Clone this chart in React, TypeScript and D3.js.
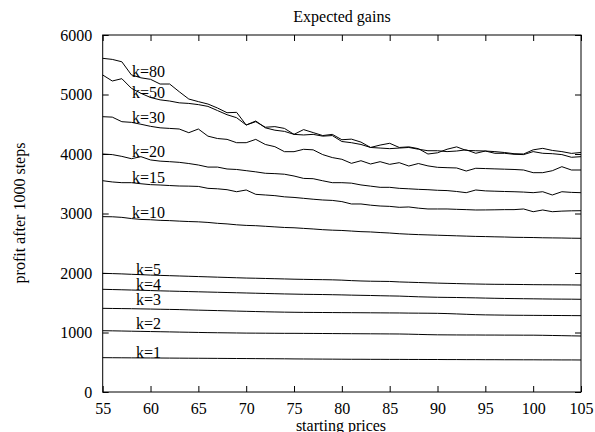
import { useEffect, useRef } from "react"
import * as d3 from "d3"

// starting prices 55..105, one point per price
const prices = d3.range(55, 106)

const k80 = [5608, 5590, 5550, 5330, 5280, 5255, 5176, 5176, 5047, 4924, 4880, 4840, 4773, 4694, 4700, 4487, 4543, 4450, 4460, 4430, 4330, 4410, 4360, 4310, 4330, 4240, 4250, 4200, 4110, 4150, 4180, 4110, 4120, 4090, 4000, 4020, 4080, 4120, 4060, 4055, 4050, 4040, 4025, 4005, 4000, 4070, 4095, 4060, 4040, 4010, 4025]
const k50 = [5328, 5227, 5266, 5104, 5020, 4950, 4910, 4890, 4860, 4850, 4830, 4800, 4730, 4660, 4610, 4487, 4555, 4440, 4400, 4380, 4330, 4320, 4330, 4300, 4310, 4210, 4190, 4160, 4110, 4100, 4090, 4100, 4110, 4080, 4055, 4055, 4040, 4050, 4070, 4012, 4050, 4012, 4012, 3995, 3990, 4040, 4012, 4005, 3990, 3945, 3955]
const k30 = [4627, 4620, 4543, 4532, 4500, 4465, 4440, 4430, 4420, 4358, 4420, 4300, 4260, 4246, 4190, 4190, 4246, 4160, 4123, 4039, 4039, 4079, 4070, 3990, 3940, 3911, 3843, 3887, 3832, 3871, 3826, 3854, 3798, 3840, 3800, 3776, 3770, 3765, 3714, 3760, 3755, 3750, 3745, 3740, 3731, 3686, 3686, 3719, 3787, 3731, 3731]
const k20 = [4000, 3990, 3960, 3921, 3955, 3900, 3880, 3871, 3860, 3840, 3815, 3780, 3780, 3748, 3740, 3720, 3700, 3676, 3670, 3660, 3630, 3590, 3585, 3550, 3518, 3518, 3510, 3480, 3460, 3440, 3440, 3423, 3415, 3406, 3400, 3390, 3385, 3370, 3350, 3395, 3380, 3375, 3370, 3366, 3360, 3350, 3366, 3311, 3366, 3355, 3350]
const k15 = [3551, 3530, 3518, 3518, 3500, 3485, 3479, 3470, 3462, 3460, 3455, 3423, 3415, 3400, 3366, 3395, 3322, 3311, 3300, 3280, 3270, 3255, 3240, 3227, 3220, 3200, 3160, 3160, 3140, 3126, 3120, 3104, 3110, 3090, 3076, 3076, 3076, 3070, 3065, 3059, 3060, 3062, 3065, 3065, 3076, 3030, 3059, 3030, 3040, 3045, 3047]
const k10 = [2947, 2945, 2935, 2915, 2900, 2895, 2885, 2880, 2872, 2865, 2860, 2850, 2835, 2825, 2810, 2800, 2795, 2785, 2775, 2765, 2760, 2750, 2740, 2728, 2720, 2715, 2705, 2695, 2690, 2680, 2672, 2660, 2652, 2645, 2640, 2635, 2630, 2625, 2620, 2615, 2612, 2608, 2605, 2600, 2598, 2596, 2592, 2590, 2588, 2585, 2583]
const k5 = [1995, 1990, 1985, 1978, 1972, 1965, 1960, 1955, 1950, 1945, 1940, 1935, 1930, 1925, 1920, 1915, 1912, 1908, 1904, 1900, 1896, 1893, 1890, 1888, 1885, 1880, 1872, 1866, 1862, 1860, 1858, 1850, 1845, 1840, 1835, 1830, 1826, 1822, 1818, 1815, 1812, 1810, 1809, 1808, 1806, 1804, 1803, 1802, 1801, 1800, 1798]
const k4 = [1726, 1722, 1718, 1714, 1710, 1705, 1700, 1696, 1692, 1688, 1684, 1680, 1676, 1672, 1668, 1664, 1660, 1656, 1652, 1648, 1645, 1642, 1640, 1638, 1635, 1632, 1628, 1625, 1622, 1618, 1615, 1612, 1606, 1600, 1596, 1592, 1590, 1588, 1585, 1582, 1578, 1575, 1572, 1570, 1568, 1566, 1564, 1562, 1561, 1560, 1558]
const k3 = [1406, 1404, 1402, 1400, 1397, 1394, 1391, 1388, 1385, 1380, 1376, 1372, 1368, 1364, 1360, 1356, 1352, 1348, 1345, 1342, 1340, 1338, 1337, 1336, 1335, 1334, 1333, 1332, 1331, 1330, 1329, 1328, 1326, 1325, 1324, 1322, 1318, 1312, 1306, 1300, 1296, 1294, 1292, 1290, 1289, 1288, 1287, 1286, 1285, 1284, 1283]
const k2 = [1030, 1028, 1025, 1022, 1019, 1016, 1013, 1010, 1007, 1004, 1001, 998, 996, 994, 992, 990, 989, 988, 987, 986, 986, 985, 984, 983, 982, 981, 980, 979, 978, 977, 976, 975, 972, 968, 964, 961, 960, 959, 958, 958, 957, 957, 956, 956, 955, 955, 953, 950, 947, 944, 941]
const k1 = [577, 576, 575, 574, 573, 572, 571, 570, 569, 568, 567, 566, 565, 564, 563, 562, 561, 560, 559, 558, 556, 555, 554, 553, 552, 551, 550, 550, 549, 549, 548, 548, 547, 547, 546, 546, 545, 545, 544, 544, 543, 543, 542, 542, 541, 541, 540, 540, 539, 539, 538]

const seriesValues = [k80, k50, k30, k20, k15, k10, k5, k4, k3, k2, k1]
const labelNames = ["k=80", "k=50", "k=30", "k=20", "k=15", "k=10", "k=5", "k=4", "k=3", "k=2", "k=1"]
// where the label text sits (price, profit) in data units
const labelPrice = 59.8
const labelProfit = [5300, 4935, 4515, 3955, 3520, 2920, 1965, 1715, 1462, 1060, 566]

const xTicks = d3.range(55, 106, 5)
const yTicks = d3.range(0, 6001, 1000)

export default function App() {
  const svgRef = useRef<SVGSVGElement>(null)

  useEffect(() => {
    if (!svgRef.current) return
    const svg = d3.select(svgRef.current)
    svg.selectAll("*").remove()

    const W = 595
    const H = 432
    const margin = { top: 35, right: 14, bottom: 40, left: 102.7 }
    const width = W - margin.left - margin.right
    const height = H - margin.top - margin.bottom
    const font = "'Liberation Serif', 'Times New Roman', serif"
    const fs = 16

    svg.attr("width", W).attr("height", H)

    const g = svg
      .append("g")
      .attr("transform", `translate(${margin.left},${margin.top})`)
      .style("font-family", font)
      .style("font-size", `${fs}px`)

    const x = d3.scaleLinear().domain([55, 105]).range([0, width])
    const y = d3.scaleLinear().domain([0, 6000]).range([height, 0])

    const styleAxis = (sel: d3.Selection<SVGGElement, unknown, null, undefined>) => {
      sel.attr("font-family", null).attr("font-size", null)
      sel.select(".domain").remove()
      sel.selectAll("line").attr("stroke", "#000").attr("stroke-width", 1)
      sel.selectAll("text").style("font-family", font).style("font-size", `${fs}px`).attr("fill", "#000")
    }

    // axes with inward ticks on all four sides
    g.append("g")
      .attr("transform", `translate(0,${height})`)
      .call(d3.axisBottom(x).tickValues(xTicks).tickFormat(d3.format("d")).tickSizeInner(-6).tickSizeOuter(0).tickPadding(10.6))
      .call(styleAxis)
    g.append("g")
      .call(d3.axisTop(x).tickValues(xTicks).tickSizeInner(-6).tickSizeOuter(0).tickFormat(() => ""))
      .call(styleAxis)
    g.append("g")
      .call(d3.axisLeft(y).tickValues(yTicks).tickFormat(d3.format("d")).tickSizeInner(-6).tickSizeOuter(0).tickPadding(10.5))
      .call(styleAxis)
    g.append("g")
      .attr("transform", `translate(${width},0)`)
      .call(d3.axisRight(y).tickValues(yTicks).tickSizeInner(-6).tickSizeOuter(0).tickFormat(() => ""))
      .call(styleAxis)

    g.append("rect")
      .attr("width", width)
      .attr("height", height)
      .attr("fill", "none")
      .attr("stroke", "#000")
      .attr("stroke-width", 1)

    const line = d3
      .line<number>()
      .x((_, i) => x(prices[i]))
      .y((d) => y(d))

    g.selectAll(".series")
      .data(seriesValues)
      .join("path")
      .attr("class", "series")
      .attr("d", (d) => line(d))
      .attr("fill", "none")
      .attr("stroke", "#000")
      .attr("stroke-width", 1)

    g.selectAll(".klabel")
      .data(labelNames)
      .join("text")
      .attr("class", "klabel")
      .attr("x", x(labelPrice))
      .attr("y", (_, i) => y(labelProfit[i]))
      .attr("text-anchor", "middle")
      .text((d) => d)

    // titles
    const titles = svg.append("g").style("font-family", font).style("font-size", `${fs}px`)

    titles.append("text")
      .attr("x", 342)
      .attr("y", 22)
      .attr("text-anchor", "middle")
      .text("Expected gains")

    titles.append("text")
      .attr("x", 341)
      .attr("y", 431)
      .attr("text-anchor", "middle")
      .text("starting prices")

    titles.append("text")
      .attr("transform", "translate(25,213) rotate(-90)")
      .attr("text-anchor", "middle")
      .text("profit after 1000 steps")
  }, [])

  return (
    <div style={{ position: "absolute", left: 0, top: 0 }}>
      <svg ref={svgRef} style={{ display: "block", background: "#fff" }}></svg>
    </div>
  )
}
